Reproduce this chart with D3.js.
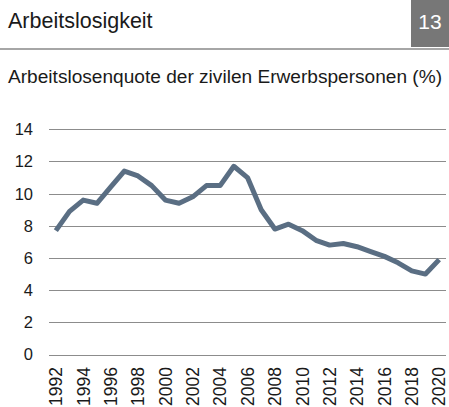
<!DOCTYPE html>
<meta charset="utf-8">
<title>Arbeitslosigkeit</title>
<style>
body { margin: 0; background: #fff; }
text { font-family: "Liberation Sans", Arial, sans-serif; fill: #1a1a1a; }
.grid line { stroke: #8c8c8c; stroke-width: 1px; }
.line { fill: none; stroke: #5a6e83; stroke-width: 5px; stroke-linejoin: round; }
</style>
<body>
<script src="https://d3js.org/d3.v7.min.js"></script>
<script>

// data
var years = [1992,1993,1994,1995,1996,1997,1998,1999,2000,2001,2002,2003,2004,2005,2006,
             2007,2008,2009,2010,2011,2012,2013,2014,2015,2016,2017,2018,2019,2020];
var quote = [7.7,8.9,9.6,9.4,10.4,11.4,11.1,10.5,9.6,9.4,9.8,10.5,10.5,11.7,11.0,
             9.0,7.8,8.1,7.7,7.1,6.8,6.9,6.7,6.4,6.1,5.7,5.2,5.0,5.9];
var yTicks = [0,2,4,6,8,10,12,14];
var xLabels = [1992,1994,1996,1998,2000,2002,2004,2006,2008,2010,2012,2014,2016,2018,2020];

var width = 449,
    height = 407;

var svg = d3.select("body").append("svg")
            .attr("width", width)
            .attr("height", height);

// header
svg.append("text")
  .attr("x", 8).attr("y", 28)
  .style("font-size", "21.5px")
  .text("Arbeitslosigkeit");

svg.append("rect")
  .attr("x", 411).attr("y", 0)
  .attr("width", 38).attr("height", 47)
  .attr("fill", "#777777");

svg.append("text")
  .attr("x", 430).attr("y", 29)
  .attr("text-anchor", "middle")
  .style("font-size", "21px")
  .style("fill", "#fff")
  .text("13");

svg.append("line")
  .attr("x1", 0).attr("x2", width)
  .attr("y1", 49).attr("y2", 49)
  .attr("stroke", "#a6a6a6")
  .attr("stroke-width", 2);

svg.append("text")
  .attr("x", 8).attr("y", 83)
  .style("font-size", "19.1px")
  .text("Arbeitslosenquote der zivilen Erwerbspersonen (%)");

// chart
var x = d3.scalePoint()
    .domain(years)
    .range([49, 446])
    .padding(0.5);

var y = d3.scaleLinear()
    .domain([0, 14])
    .range([354.5, 129.3]);

var grid = svg.append("g").attr("class", "grid");

grid.selectAll("line")
  .data(yTicks)
  .enter().append("line")
    .attr("x1", 49).attr("x2", 446)
    .attr("y1", function(d) { return Math.round(y(d)) + 0.5; })
    .attr("y2", function(d) { return Math.round(y(d)) + 0.5; });

svg.append("g").selectAll("text")
  .data(yTicks)
  .enter().append("text")
    .attr("x", 33)
    .attr("y", function(d) { return y(d); })
    .attr("dy", "0.36em")
    .attr("text-anchor", "end")
    .style("font-size", "16.5px")
    .text(function(d) { return d; });

svg.append("g").selectAll("text")
  .data(xLabels)
  .enter().append("text")
    .attr("transform", function(d) { return "translate(" + x(d) + ",367) rotate(-90)"; })
    .attr("dy", "0.36em")
    .attr("text-anchor", "end")
    .style("font-size", "17.5px")
    .text(function(d) { return d; });

var line = d3.line()
    .x(function(d, i) { return x(years[i]); })
    .y(function(d) { return y(d); });

svg.append("path")
  .datum(quote)
  .attr("class", "line")
  .attr("d", line);

</script>
</body>
